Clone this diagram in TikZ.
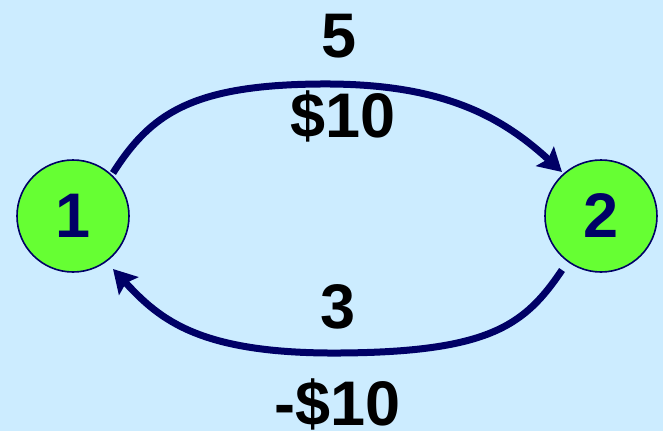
\documentclass[tikz,border=0pt]{standalone}
\usepackage{fontspec}
\setmainfont{Liberation Sans}
\usetikzlibrary{arrows.meta,calc}
\definecolor{bg}{RGB}{204,236,255}
\definecolor{nodegreen}{RGB}{102,255,51}
\definecolor{navy}{RGB}{0,0,102}
\begin{document}
\begin{tikzpicture}[x=1pt,y=-1pt,
  statenode/.style={circle,draw=navy,line width=1.6pt,fill=nodegreen,minimum size=112pt,inner sep=0pt,text=navy,font=\fontsize{63}{70}\selectfont\bfseries},
  conn/.style={draw=navy,line width=7pt,-{Stealth[length=23pt,width=26pt,inset=4pt]}},
  lbl/.style={anchor=base,inner sep=0pt,text=black,font=\fontsize{63}{70}\selectfont\bfseries}]
\fill[bg] (0,0) rectangle (663,431);
\useasboundingbox (0,0) rectangle (663,431);
\node[statenode] (n1) at (73,216) {\raisebox{-0.3ex}{1}};
\node[statenode] (n2) at (601,216) {\raisebox{-0.3ex}{2}};
\coordinate (a1) at ($(n1.center)+(40,-43)$);
\coordinate (a2) at ($(n2.center)+(-39,-44)$);
\coordinate (b1) at ($(n2.center)+(-39,54)$);
\coordinate (b2) at ($(n1.center)+(40,53)$);
\draw[conn] (a1) .. controls (150,115) and (190,85) .. (320,84) .. controls (440,83) and (500,115) .. (a2);
\draw[conn] (b1) .. controls (525,325) and (490,352) .. (340,353) .. controls (200,354) and (160,320) .. (b2);
\node[lbl] (l5) at (339,57) {5};
\node[lbl] (l10) at (343,137) {\$10};
\node[lbl] (l3) at (338,328) {3};
\node[lbl] (lm10) at (338,425) {-\$10};
\end{tikzpicture}
\end{document}
